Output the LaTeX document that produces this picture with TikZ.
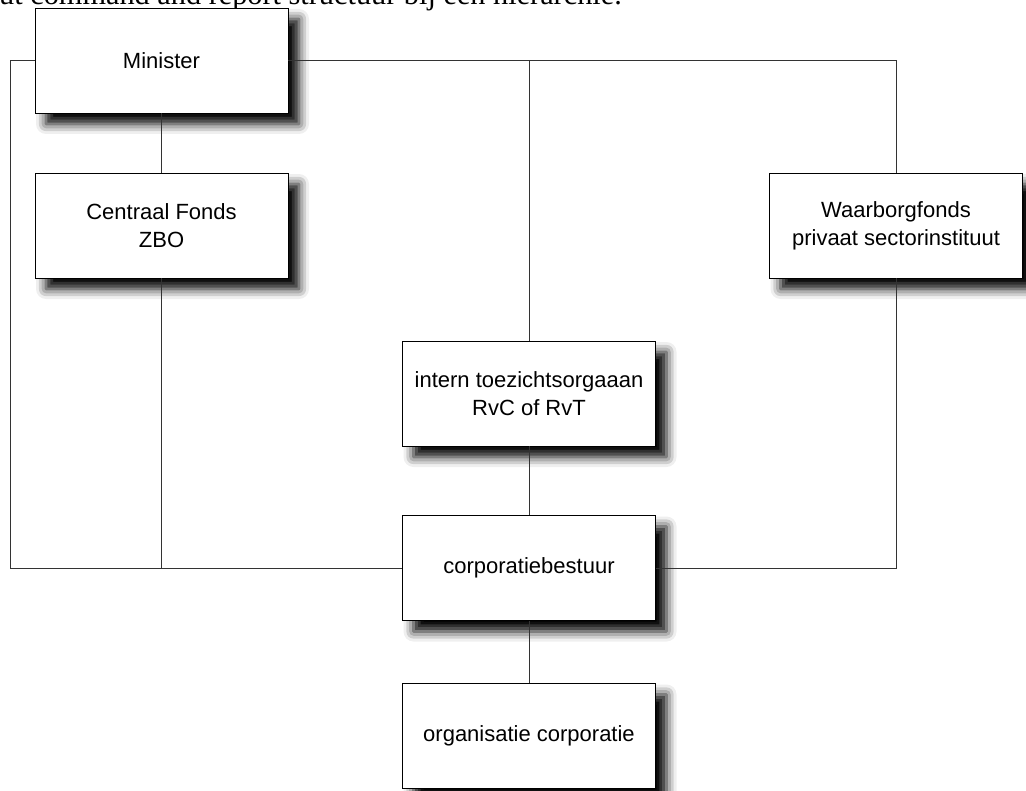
\documentclass[tikz,border=0pt]{standalone}
\usepackage{fontspec}
\setmainfont{Liberation Sans}
\newfontfamily\captionfont{Liberation Serif}
\usetikzlibrary{shadows.blur}
\begin{document}
\begin{tikzpicture}[x=1pt,y=-1pt,
  orgbox/.style={draw=black, line width=0.9pt, fill=white, minimum width=253pt, minimum height=105pt,
    align=center, inner sep=0pt, font=\fontsize{22}{28}\selectfont,
    blur shadow={shadow xshift=11pt, shadow yshift=-11pt, shadow blur radius=10pt, shadow opacity=100}},
  link/.style={draw=black!80, line width=0.8pt}]
\useasboundingbox (0,0) rectangle (1026,791);
\node[anchor=base east, inner sep=0pt, font=\captionfont\fontsize{30.3}{34}\selectfont] (cap) at (622,5) {ut command and report structuur bij een hierarchie.};
\node[orgbox] (min) at (161.5,60.5) {Minister};
\node[orgbox] (cen) at (161.5,225.5) {Centraal Fonds\\ZBO};
\node[orgbox] (waa) at (896,225.5) {Waarborgfonds\\privaat sectorinstituut};
\node[orgbox] (int) at (529,393.5) {intern toezichtsorgaaan\\RvC of RvT};
\node[orgbox] (bes) at (529,568) {corporatiebestuur};
\node[orgbox] (org) at (529,736) {organisatie corporatie};
\coordinate (L) at (10,0);
\draw[link] (min.west) -| (L |- bes.west) -- (bes.west);
\draw[link] (min.east) -| (waa.north);
\draw[link] (int.north) -- (int.north |- min.east);
\draw[link] (min.south) -- (cen.north);
\draw[link] (cen.south) -- (cen.south |- bes.west);
\draw[link] (waa.south) |- (bes.east);
\draw[link] (int.south) -- (bes.north);
\draw[link] (bes.south) -- (org.north);
\end{tikzpicture}
\end{document}
